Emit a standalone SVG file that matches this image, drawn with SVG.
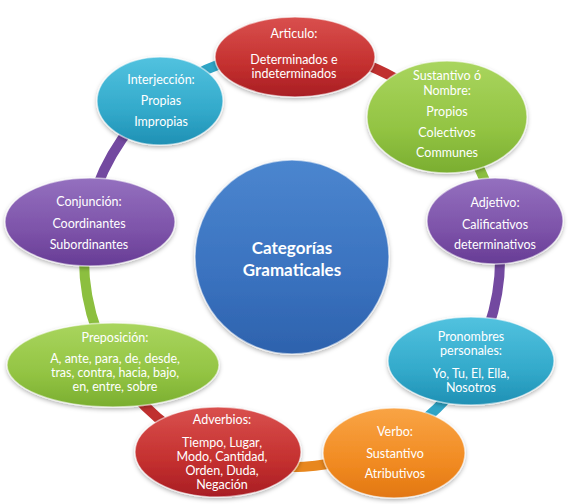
<svg xmlns="http://www.w3.org/2000/svg" width="572" height="504" viewBox="0 0 572 504">
<defs>
<linearGradient id="gRed" x1="0" y1="0" x2="0" y2="1"><stop offset="0" stop-color="#d9504e"/><stop offset="0.6" stop-color="#c4302f"/><stop offset="1" stop-color="#a81e24"/></linearGradient>
<linearGradient id="gGreen" x1="0" y1="0" x2="0" y2="1"><stop offset="0" stop-color="#a9d55e"/><stop offset="0.6" stop-color="#93c443"/><stop offset="1" stop-color="#7aae30"/></linearGradient>
<linearGradient id="gPurple" x1="0" y1="0" x2="0" y2="1"><stop offset="0" stop-color="#9470bf"/><stop offset="0.6" stop-color="#7d53a9"/><stop offset="1" stop-color="#673c95"/></linearGradient>
<linearGradient id="gTeal" x1="0" y1="0" x2="0" y2="1"><stop offset="0" stop-color="#52c2df"/><stop offset="0.6" stop-color="#33aacb"/><stop offset="1" stop-color="#1f90b4"/></linearGradient>
<linearGradient id="gOrange" x1="0" y1="0" x2="0" y2="1"><stop offset="0" stop-color="#f9a445"/><stop offset="0.6" stop-color="#f18b22"/><stop offset="1" stop-color="#e27712"/></linearGradient>
<linearGradient id="gBlue" x1="0" y1="0" x2="0" y2="1"><stop offset="0" stop-color="#4b86cf"/><stop offset="0.6" stop-color="#3a72bf"/><stop offset="1" stop-color="#2d62ad"/></linearGradient>
<filter id="sh" x="-20%" y="-20%" width="140%" height="150%"><feDropShadow dx="0" dy="2" stdDeviation="2" flood-color="#000" flood-opacity="0.3"/></filter>
<style>
.n{stroke:#ffffff;stroke-opacity:0.55;stroke-width:1.5;filter:url(#sh)}
.t{font-family:Lato,"Open Sans","Liberation Sans",sans-serif;font-size:12.5px;fill:#ffffff;text-anchor:middle}
.tc{font-family:Lato,"Open Sans","Liberation Sans",sans-serif;font-size:17px;font-weight:bold;fill:#ffffff;text-anchor:middle}
.c{fill:none;stroke-width:10;stroke-linecap:butt}
</style>
</defs>
<rect width="572" height="504" fill="#ffffff"/>
<g id="connectors">
<path class="c" stroke="#c0302f" d="M295.6,51 A208,208 0 0 1 445.4,118.5"/>
<path class="c" stroke="#8cbf3f" d="M445.4,118.5 A208,208 0 0 1 496.5,220.7"/>
<path class="c" stroke="#7349a0" d="M496.5,220.7 A208,208 0 0 1 472.7,362.1"/>
<path class="c" stroke="#2fa5c6" d="M472.7,362.1 A208,208 0 0 1 388.7,443.2"/>
<path class="c" stroke="#e8871e" d="M388.7,443.2 A208,208 0 0 1 217.5,453.2"/>
<path class="c" stroke="#c0302f" d="M217.5,453.2 A208,208 0 0 1 113,364.9"/>
<path class="c" stroke="#8cbf3f" d="M113,364.9 A208,208 0 0 1 87.4,221.5"/>
<path class="c" stroke="#7349a0" d="M87.4,221.5 A208,208 0 0 1 158.3,99.7"/>
<path class="c" stroke="#2fa5c6" d="M158.3,99.7 A208,208 0 0 1 295.6,51"/>
</g>
<g id="center">
<circle class="n" cx="292" cy="257" r="97" fill="url(#gBlue)"/>
<text class="tc" x="292" y="254">Categorías</text>
<text class="tc" x="292" y="276">Gramaticales</text>
</g>
<g id="articulo">
<ellipse class="n" cx="295" cy="57" rx="80" ry="40" fill="url(#gRed)"/>
<text class="t" x="294" y="38">Articulo:</text>
<text class="t" x="294" y="64">Determinados e</text>
<text class="t" x="294" y="78">indeterminados</text>
</g>
<g id="sustantivo">
<ellipse class="n" cx="447" cy="117" rx="80" ry="56" fill="url(#gGreen)"/>
<text class="t" x="447" y="80">Sustantivo ó</text>
<text class="t" x="447" y="95">Nombre:</text>
<text class="t" x="447" y="116">Propios</text>
<text class="t" x="447" y="137">Colectivos</text>
<text class="t" x="447" y="157">Communes</text>
</g>
<g id="adjetivo">
<ellipse class="n" cx="495" cy="221" rx="68" ry="43" fill="url(#gPurple)"/>
<text class="t" x="495" y="207">Adjetivo:</text>
<text class="t" x="495" y="229">Calificativos</text>
<text class="t" x="495" y="249">determinativos</text>
</g>
<g id="pronombres">
<ellipse class="n" cx="471" cy="361" rx="83" ry="44" fill="url(#gTeal)"/>
<text class="t" x="471" y="341">Pronombres</text>
<text class="t" x="471" y="355">personales:</text>
<text class="t" x="471" y="378">Yo, Tu, El, Ella,</text>
<text class="t" x="471" y="392">Nosotros</text>
</g>
<g id="verbo">
<ellipse class="n" cx="394" cy="453" rx="71" ry="45" fill="url(#gOrange)"/>
<text class="t" x="395" y="436">Verbo:</text>
<text class="t" x="395" y="458">Sustantivo</text>
<text class="t" x="395" y="478">Atributivos</text>
</g>
<g id="adverbios">
<ellipse class="n" cx="218" cy="452" rx="83" ry="45" fill="url(#gRed)"/>
<text class="t" x="222" y="424">Adverbios:</text>
<text class="t" x="222" y="447">Tiempo, Lugar,</text>
<text class="t" x="222" y="461">Modo, Cantidad,</text>
<text class="t" x="222" y="475">Orden, Duda,</text>
<text class="t" x="222" y="489">Negación</text>
</g>
<g id="preposicion">
<ellipse class="n" cx="113" cy="365" rx="106" ry="42" fill="url(#gGreen)"/>
<text class="t" x="115" y="342">Preposición:</text>
<text class="t" x="115" y="363">A, ante, para, de, desde,</text>
<text class="t" x="115" y="377">tras, contra, hacia, bajo,</text>
<text class="t" x="115" y="391">en, entre, sobre</text>
</g>
<g id="conjuncion">
<ellipse class="n" cx="90" cy="222" rx="85" ry="44" fill="url(#gPurple)"/>
<text class="t" x="89" y="206">Conjunción:</text>
<text class="t" x="89" y="228">Coordinantes</text>
<text class="t" x="89" y="249">Subordinantes</text>
</g>
<g id="interjeccion">
<ellipse class="n" cx="160" cy="101" rx="63" ry="44" fill="url(#gTeal)"/>
<text class="t" x="161" y="84">Interjección:</text>
<text class="t" x="161" y="105">Propias</text>
<text class="t" x="161" y="126">Impropias</text>
</g>
</svg>
